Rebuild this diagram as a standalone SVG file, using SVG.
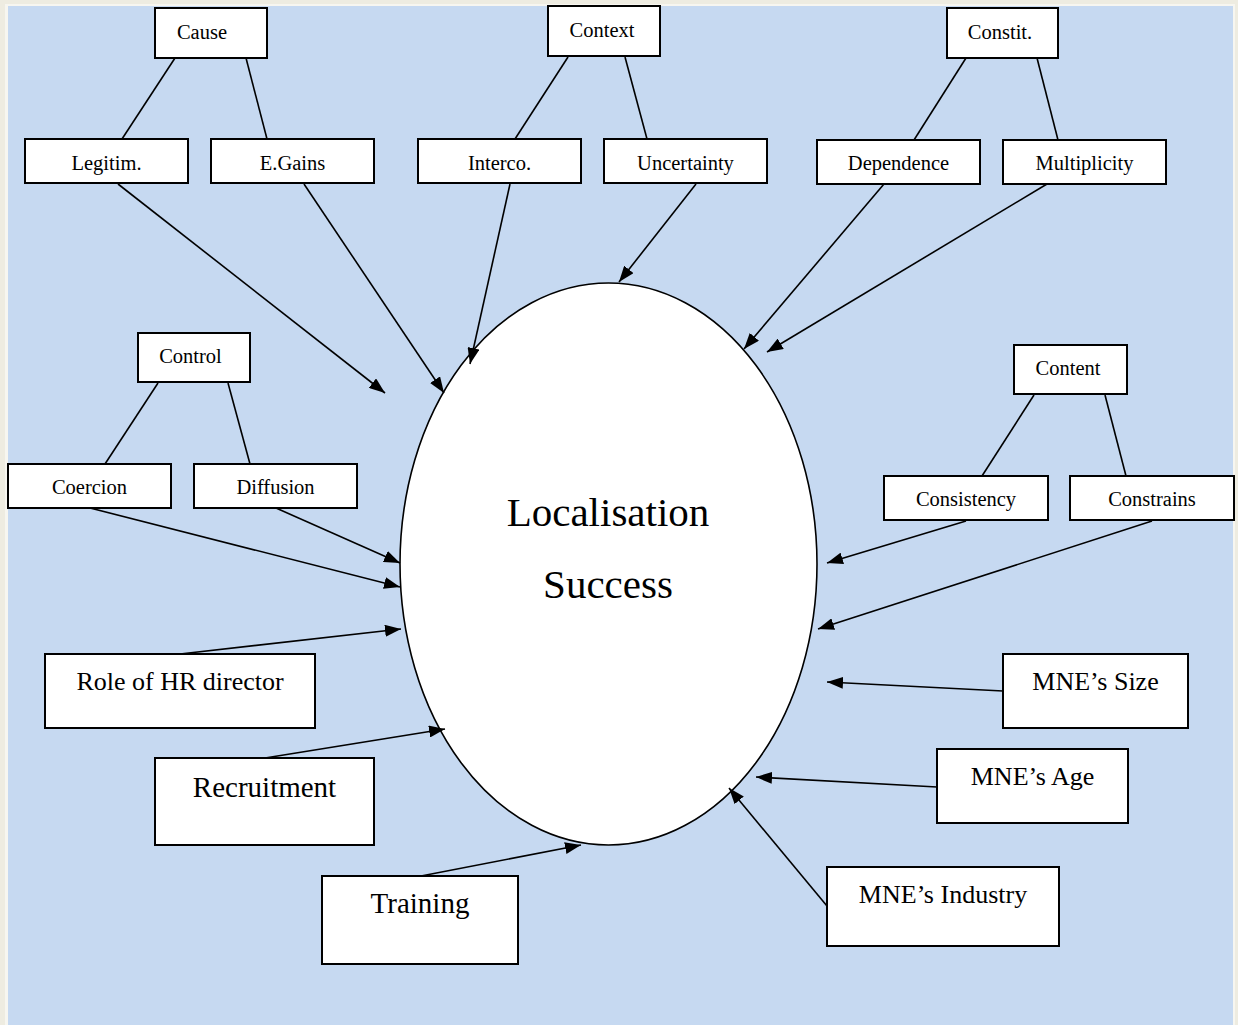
<svg xmlns="http://www.w3.org/2000/svg" width="1238" height="1025" viewBox="0 0 1238 1025">
<defs>
<style>
.box{fill:#ffffff;stroke:#000000;stroke-width:2}
.ln{stroke:#000000;stroke-width:1.6;fill:none}
.ar{stroke:#000000;stroke-width:1.6;fill:none;marker-end:url(#ah)}
.s{font-family:"Liberation Serif","Times New Roman",serif;font-size:20.5px;fill:#000000;text-anchor:middle}
.m{font-family:"Liberation Serif","Times New Roman",serif;font-size:26px;fill:#000000;text-anchor:middle}
.l{font-family:"Liberation Serif","Times New Roman",serif;font-size:29px;fill:#000000;text-anchor:middle}
.c{font-family:"Liberation Serif","Times New Roman",serif;font-size:41px;fill:#000000;text-anchor:middle}
</style>
<marker id="ah" markerWidth="16" markerHeight="12" refX="16" refY="6" orient="auto" markerUnits="userSpaceOnUse">
<path d="M0,0 L16,6 L0,12 Z" fill="#000000"/>
</marker>
</defs>
<rect x="0" y="0" width="1238" height="1025" fill="#eeece1"/>
<rect x="5" y="4" width="1230" height="1021" fill="#f7f6f0"/>
<rect x="8" y="6" width="1225" height="1019" fill="#c6d9f1"/>

<g id="center">
<ellipse cx="608.5" cy="564" rx="208.5" ry="281" fill="#ffffff" stroke="#000000" stroke-width="1.6"/>
<text class="c" x="608" y="526">Localisation</text>
<text class="c" x="608" y="598">Success</text>
</g>

<g id="connectors">
<line class="ln" x1="175" y1="58" x2="122" y2="139"/>
<line class="ln" x1="246" y1="58" x2="267" y2="139"/>
<line class="ln" x1="568" y1="57" x2="515" y2="139"/>
<line class="ln" x1="625" y1="57" x2="647" y2="139"/>
<line class="ln" x1="966" y1="58" x2="914" y2="140"/>
<line class="ln" x1="1037" y1="58" x2="1058" y2="140"/>
<line class="ln" x1="158" y1="383" x2="105" y2="464"/>
<line class="ln" x1="228" y1="383" x2="250" y2="464"/>
<line class="ln" x1="1034" y1="395" x2="982" y2="476"/>
<line class="ln" x1="1105" y1="395" x2="1126" y2="476"/>

<line class="ar" x1="118" y1="184" x2="385" y2="393"/>
<line class="ar" x1="304" y1="184" x2="444" y2="393"/>
<line class="ar" x1="510" y1="184" x2="470" y2="364"/>
<line class="ar" x1="696" y1="184" x2="619" y2="282"/>
<line class="ar" x1="884" y1="184" x2="744" y2="349"/>
<line class="ar" x1="1047" y1="184" x2="767" y2="352"/>
<line class="ar" x1="90" y1="508" x2="400" y2="587"/>
<line class="ar" x1="276" y1="508" x2="400" y2="563"/>
<line class="ar" x1="966" y1="521" x2="827" y2="563"/>
<line class="ar" x1="1152" y1="521" x2="818" y2="629"/>
<line class="ar" x1="180" y1="654" x2="401" y2="629"/>
<line class="ar" x1="265" y1="758" x2="445" y2="729"/>
<line class="ar" x1="421" y1="876" x2="581" y2="845"/>
<line class="ar" x1="1003" y1="691" x2="827" y2="682"/>
<line class="ar" x1="937" y1="787" x2="756" y2="777"/>
<line class="ar" x1="827" y1="906" x2="729" y2="788"/>
</g>

<g id="cause"><rect class="box" x="155" y="8" width="112" height="50"/><text class="s" x="202" y="39">Cause</text></g>
<g id="legitim"><rect class="box" x="25" y="139" width="163" height="44"/><text class="s" x="106.5" y="170">Legitim.</text></g>
<g id="egains"><rect class="box" x="211" y="139" width="163" height="44"/><text class="s" x="292.5" y="170">E.Gains</text></g>

<g id="context"><rect class="box" x="548" y="6" width="112" height="50"/><text class="s" x="602" y="37">Context</text></g>
<g id="interco"><rect class="box" x="418" y="139" width="163" height="44"/><text class="s" x="499.5" y="170">Interco.</text></g>
<g id="uncertainty"><rect class="box" x="604" y="139" width="163" height="44"/><text class="s" x="685.5" y="170">Uncertainty</text></g>

<g id="constit"><rect class="box" x="947" y="8" width="111" height="50"/><text class="s" x="1000" y="39">Constit.</text></g>
<g id="dependence"><rect class="box" x="817" y="140" width="163" height="44"/><text class="s" x="898.5" y="170">Dependence</text></g>
<g id="multiplicity"><rect class="box" x="1003" y="140" width="163" height="44"/><text class="s" x="1084.5" y="170">Multiplicity</text></g>

<g id="control"><rect class="box" x="138" y="333" width="112" height="49"/><text class="s" x="190.5" y="363">Control</text></g>
<g id="coercion"><rect class="box" x="8" y="464" width="163" height="44"/><text class="s" x="89.5" y="494">Coercion</text></g>
<g id="diffusion"><rect class="box" x="194" y="464" width="163" height="44"/><text class="s" x="275.5" y="494">Diffusion</text></g>

<g id="content"><rect class="box" x="1014" y="345" width="113" height="49"/><text class="s" x="1068" y="375">Content</text></g>
<g id="consistency"><rect class="box" x="884" y="476" width="164" height="44"/><text class="s" x="966" y="506">Consistency</text></g>
<g id="constrains"><rect class="box" x="1070" y="476" width="164" height="44"/><text class="s" x="1152" y="506">Constrains</text></g>

<g id="rolehr"><rect class="box" x="45" y="654" width="270" height="74"/><text class="m" x="180" y="690">Role of HR director</text></g>
<g id="recruitment"><rect class="box" x="155" y="758" width="219" height="87"/><text class="l" x="264.5" y="797">Recruitment</text></g>
<g id="training"><rect class="box" x="322" y="876" width="196" height="88"/><text class="l" x="420" y="913">Training</text></g>

<g id="mnesize"><rect class="box" x="1003" y="654" width="185" height="74"/><text class="m" x="1095.5" y="690">MNE’s Size</text></g>
<g id="mneage"><rect class="box" x="937" y="749" width="191" height="74"/><text class="m" x="1032.5" y="785">MNE’s Age</text></g>
<g id="mneindustry"><rect class="box" x="827" y="867" width="232" height="79"/><text class="m" x="943" y="903">MNE’s Industry</text></g>
</svg>
